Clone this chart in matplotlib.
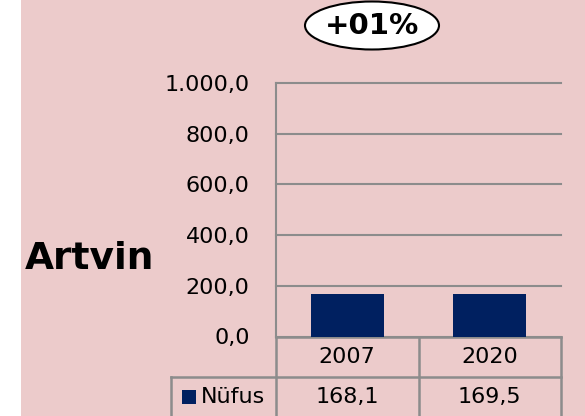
import matplotlib.pyplot as plt
from matplotlib.patches import Ellipse, Rectangle

# data
years = ['2007', '2020']
nufus = [168.1, 169.5]
yticks = [0, 200, 400, 600, 800, 1000]
ytick_labels = ['0,0', '200,0', '400,0', '600,0', '800,0', '1.000,0']
city = 'Artvin'
change = '+01%'
series_name = 'Nüfus'

bg = '#ECCBCB'
bar_color = '#002060'
grid_color = '#8C8C8C'

W, H = 585, 416
fig = plt.figure(figsize=(W / 100, H / 100), dpi=100)
fig.patch.set_facecolor('white')
fig.patches.append(Rectangle((21 / W, 0), 1 - 21 / W, 1, transform=fig.transFigure,
                             facecolor=bg, edgecolor='none', zorder=-5))

ax = fig.add_axes([276 / W, 1 - 336.5 / H, 285 / W, 253.5 / H])
ax.set_facecolor('none')
x = list(range(len(years)))
ax.bar(x, nufus, width=0.51, color=bar_color, zorder=3)
ax.set_xlim(-0.5, len(years) - 0.5)
ax.set_ylim(0, 1000)
ax.set_yticks(yticks)
ax.set_yticklabels(ytick_labels, fontsize=16)
ax.tick_params(axis='y', length=0, pad=19)
ax.set_xticks([])
for s in ['top', 'right', 'bottom']:
    ax.spines[s].set_visible(False)
ax.spines['left'].set_color(grid_color)
ax.spines['left'].set_linewidth(1.5)
ax.yaxis.grid(True, color=grid_color, linewidth=1.5)
for gl in ax.get_ygridlines():
    gl.set_clip_on(False)
ax.set_axisbelow(True)

# data table under the plot
r1 = -40.5 / 253.5
r2 = -80.5 / 253.5
leg_left = (171 - 276) / 285
lk = dict(color=grid_color, linewidth=1.8, clip_on=False, transform=ax.transAxes)
ax.plot([0, 1], [0, 0], **lk)
ax.plot([leg_left, 1], [r1, r1], **lk)
ax.plot([leg_left, 1], [r2, r2], **lk)
ax.plot([0, 0], [0, r2], **lk)
ax.plot([0.5, 0.5], [0, r2], **lk)
ax.plot([1, 1], [0, r2], **lk)
ax.plot([leg_left, leg_left], [r1, r2], **lk)

tr = ax.get_xaxis_transform()
for i, (yr, v) in enumerate(zip(years, nufus)):
    ax.text(i, r1 / 2, yr, transform=tr, ha='center', va='center', fontsize=16)
    ax.text(i, (r1 + r2) / 2, f'{v:.1f}'.replace('.', ','), transform=tr,
            ha='center', va='center', fontsize=16)

# legend key in the table
fig.patches.append(Rectangle((182 / W, 1 - 404 / H), 14 / W, 14 / H, transform=fig.transFigure,
                             facecolor=bar_color, edgecolor='none'))
fig.text(201 / W, 1 - 397 / H, series_name, ha='left', va='center', fontsize=16)

fig.text(25 / W, 1 - 259 / H, city, ha='left', va='center', fontsize=27, fontweight='bold')

fig.patches.append(Ellipse((372 / W, 1 - 25.5 / H), 134 / W, 48 / H, transform=fig.transFigure,
                           facecolor='white', edgecolor='black', linewidth=1.5))
fig.text(372 / W, 1 - 26 / H, change, ha='center', va='center', fontsize=21, fontweight='bold')

fig.savefig('out.png', dpi=100, facecolor=fig.get_facecolor())
